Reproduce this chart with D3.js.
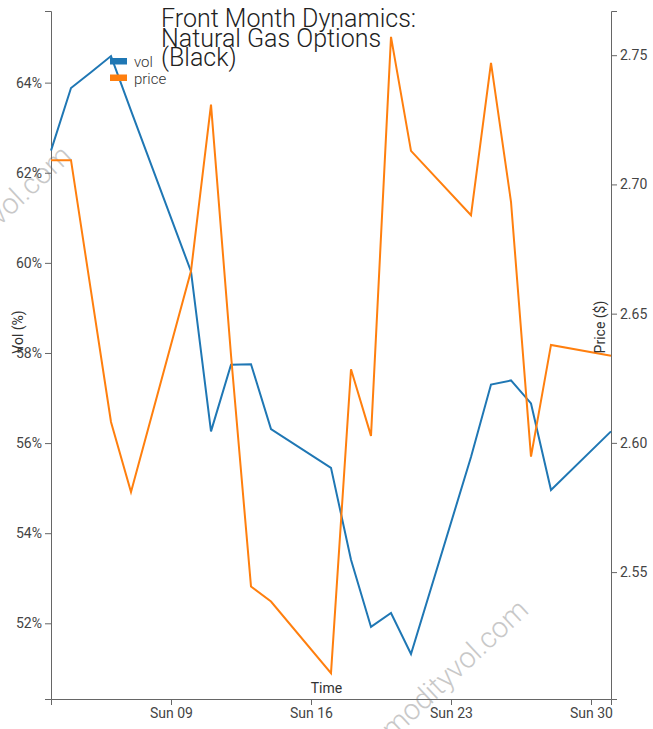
<!DOCTYPE html>
<html>
<head>
<meta charset="utf-8">
<script src="https://cdn.jsdelivr.net/npm/d3@7.9.0/dist/d3.min.js"></script>
<style>
	body { margin: 0; background: #fff; }
	svg { display: block; font-family: Roboto, sans-serif; }
	.axis path, .axis line { stroke: #666; }
	.axis text { fill: #444; font-size: 14px; font-family: Roboto, sans-serif; }
	.label { fill: #333; font-size: 14px; }
</style>
</head>
<body>
<svg id="chart" width="653" height="729"></svg>
<script>
// trading days, front month natural gas options
const dates = [
	'2025-03-03', '2025-03-04', '2025-03-05', '2025-03-06', '2025-03-07',
	'2025-03-10', '2025-03-11', '2025-03-12', '2025-03-13', '2025-03-14',
	'2025-03-17', '2025-03-18', '2025-03-19', '2025-03-20', '2025-03-21',
	'2025-03-24', '2025-03-25', '2025-03-26', '2025-03-27', '2025-03-28',
	'2025-03-31',
];
const vol = [
	62.49, 63.88, 64.23, 64.59, 63.38,
	59.81, 56.26, 57.74, 57.75, 56.31,
	55.45, 53.41, 51.92, 52.23, 51.32,
	55.69, 57.30, 57.39, 56.88, 54.96,
	56.26,
];
const price = [
	2.7094, 2.7094, 2.6587, 2.6081, 2.5810,
	2.6665, 2.7309, 2.6340, 2.5444, 2.5386,
	2.5109, 2.6285, 2.6027, 2.7571, 2.7130,
	2.6881, 2.7470, 2.6933, 2.5947, 2.6379,
	2.6337,
];
const seriesNames = ['vol', 'price'];
const titleLines = ['Front Month Dynamics:', 'Natural Gas Options', '(Black)'];

const parseDate = d3.timeParse('%Y-%m-%d');
const rows = dates.map((d, i) => ({ date: parseDate(d), vol: vol[i], price: price[i] }));

const width = 653;
const height = 729;
const margin = { top: 11, right: 42, bottom: 30, left: 51 };

const svg = d3.select('#chart');
const color = d3.scaleOrdinal().domain(seriesNames).range(['#1f77b4', '#ff7f0e']);

const x = d3.scaleTime()
	.domain(d3.extent(rows, (d) => d.date))
	.range([margin.left, width - margin.right]);

const volExtent = d3.extent(vol);
const yVol = d3.scaleLinear()
	.domain([volExtent[0] - 1, volExtent[1] + 1])
	.range([height - margin.bottom, margin.top]);

const priceExtent = d3.extent(price);
const yPrice = d3.scaleLinear()
	.domain([priceExtent[0] - 0.01, priceExtent[1] + 0.01])
	.range([height - margin.bottom, margin.top]);

// watermark
const watermarks = [[73, 158], [530, 612]];
watermarks.forEach(([wx, wy]) => {
	svg.append('text')
		.attr('transform', `translate(${wx},${wy}) rotate(-43)`)
		.attr('text-anchor', 'end')
		.attr('fill', '#c8c8c8')
		.attr('font-size', 29)
		.attr('font-weight', 300)
		.text('commodityvol.com');
});

// axes
svg.append('g')
	.attr('class', 'axis')
	.attr('transform', `translate(0,${height - margin.bottom})`)
	.call(d3.axisBottom(x).ticks(d3.timeWeek).tickFormat(d3.timeFormat('%a %d')));

svg.append('g')
	.attr('class', 'axis')
	.attr('transform', `translate(${margin.left},0)`)
	.call(d3.axisLeft(yVol).ticks(5).tickFormat((d) => d + '%'));

svg.append('g')
	.attr('class', 'axis')
	.attr('transform', `translate(${width - margin.right},0)`)
	.call(d3.axisRight(yPrice).ticks(5).tickFormat(d3.format('.2f')));

svg.selectAll('.axis text').attr('font-size', null).attr('font-family', null);

// lines
const volLine = d3.line().x((d) => x(d.date)).y((d) => yVol(d.vol));
const priceLine = d3.line().x((d) => x(d.date)).y((d) => yPrice(d.price));

svg.append('path')
	.datum(rows)
	.attr('fill', 'none')
	.attr('stroke', color('vol'))
	.attr('stroke-width', 2)
	.attr('d', volLine);

svg.append('path')
	.datum(rows)
	.attr('fill', 'none')
	.attr('stroke', color('price'))
	.attr('stroke-width', 2)
	.attr('d', priceLine);

// axis labels
svg.append('text')
	.attr('class', 'label')
	.attr('x', width / 2)
	.attr('y', 693)
	.attr('text-anchor', 'middle')
	.text('Time');

svg.append('text')
	.attr('class', 'label')
	.attr('transform', 'translate(23,332) rotate(-90)')
	.attr('text-anchor', 'middle')
	.text('Vol (%)');

svg.append('text')
	.attr('class', 'label')
	.attr('transform', 'translate(605,327) rotate(-90)')
	.attr('text-anchor', 'middle')
	.text('Price ($)');

// title
const title = svg.append('text')
	.attr('x', 161)
	.attr('y', 27)
	.attr('fill', '#222')
	.attr('font-size', 25)
	.attr('font-weight', 300);
titleLines.forEach((line, i) => {
	title.append('tspan')
		.attr('x', 161)
		.attr('dy', i === 0 ? 0 : 19.5)
		.text(line);
});

// legend
const legend = svg.append('g').attr('transform', 'translate(110,58)');
seriesNames.forEach((name, i) => {
	const item = legend.append('g').attr('transform', `translate(0,${i * 16.5})`);
	item.append('rect')
		.attr('width', 17)
		.attr('height', 6.5)
		.attr('fill', color(name));
	item.append('text')
		.attr('x', 24)
		.attr('y', 9)
		.attr('fill', '#333')
		.attr('font-size', 15)
		.attr('font-weight', 300)
		.text(name);
});
</script>
</body>
</html>
